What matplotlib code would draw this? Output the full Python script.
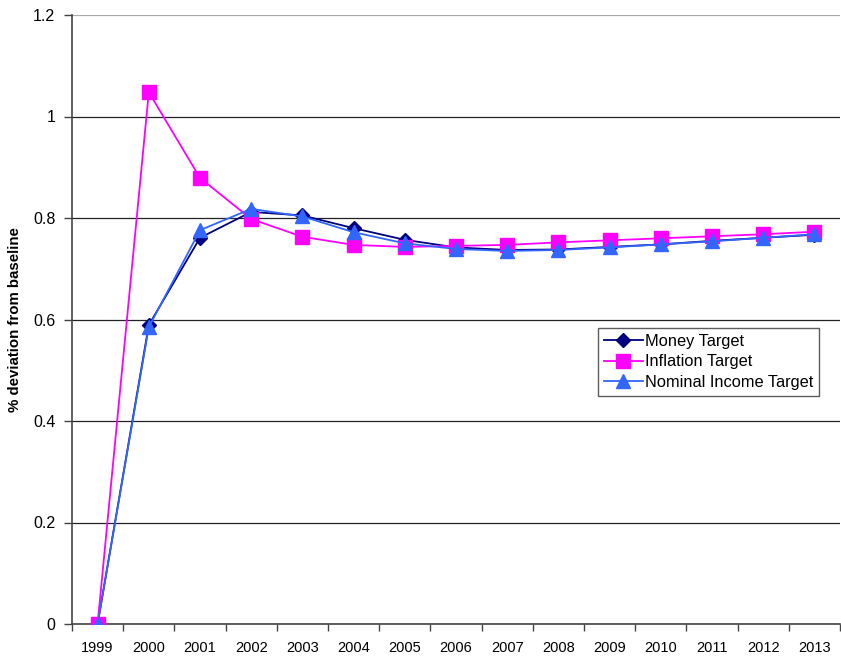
import matplotlib
matplotlib.use("Agg")
import matplotlib.pyplot as plt
import numpy as np

years = ["1999", "2000", "2001", "2002", "2003", "2004", "2005", "2006", "2007",
         "2008", "2009", "2010", "2011", "2012", "2013"]
money = [0.0, 0.589, 0.761, 0.812, 0.805, 0.780, 0.757, 0.742, 0.737, 0.738,
         0.743, 0.748, 0.755, 0.761, 0.767]
inflation = [0.0, 1.048, 0.879, 0.798, 0.763, 0.747, 0.743, 0.745, 0.747, 0.752,
             0.756, 0.760, 0.764, 0.768, 0.773]
nominal = [0.0, 0.585, 0.776, 0.818, 0.803, 0.772, 0.750, 0.739, 0.735, 0.737,
           0.742, 0.748, 0.754, 0.761, 0.768]

plt.rcParams['font.family'] = ['Liberation Sans', 'DejaVu Sans']

fig = plt.figure(figsize=(8.41, 6.6), dpi=100)
ax = fig.add_axes([72/841, 36/660, (840-72)/841, (624-15)/660])

x = np.arange(len(years))
ax.plot(x, money, color='#000080', marker='D', markersize=7, lw=1.3, label='Money Target', zorder=3)
ax.plot(x, inflation, color='#FF00FF', marker='s', markersize=10.5, lw=1.3, label='Inflation Target', zorder=3)
ax.plot(x, nominal, color='#3366FF', marker='^', markersize=9.5, lw=1.3, label='Nominal Income Target', zorder=4)

ax.set_xlim(-0.5, len(years) - 0.5)
ax.set_ylim(0, 1.2)
ax.set_yticks(np.arange(0, 1.21, 0.2))
ax.set_yticklabels(['0', '0.2', '0.4', '0.6', '0.8', '1', '1.2'], fontsize=11.5)
ax.yaxis.grid(True, color='#222222', lw=0.9)
gl = ax.get_ygridlines()
gl[-1].set_color('#aaaaaa')
ax.set_axisbelow(True)

ax.set_xticks(x)
ax.set_xticklabels(years, fontsize=10.5)
ax.tick_params(axis='x', which='major', length=0, pad=12)
ax.set_xticks(np.arange(-0.5, len(years), 1.0), minor=True)
ax.tick_params(axis='x', which='minor', length=5, width=1, color='#444444', direction='out')
ax.tick_params(axis='y', length=6, width=1, color='#444444', direction='out', pad=6)

for s in ['top', 'right']:
    ax.spines[s].set_visible(False)
for s in ['left', 'bottom']:
    ax.spines[s].set_color('#444444')
    ax.spines[s].set_linewidth(1.2)

ax.set_ylabel('% deviation from baseline', fontsize=10.8, fontweight='bold', labelpad=8)

leg = ax.legend(loc='upper left', bbox_to_anchor=((598-72)/768, (624-328)/609),
                fontsize=11.8, frameon=True, fancybox=False, borderpad=0.35,
                labelspacing=0.35, handlelength=2.4, handletextpad=0.1, borderaxespad=0)
leg.get_frame().set_edgecolor('#333333')
leg.get_frame().set_linewidth(1.0)

fig.savefig('out.png', dpi=100)
